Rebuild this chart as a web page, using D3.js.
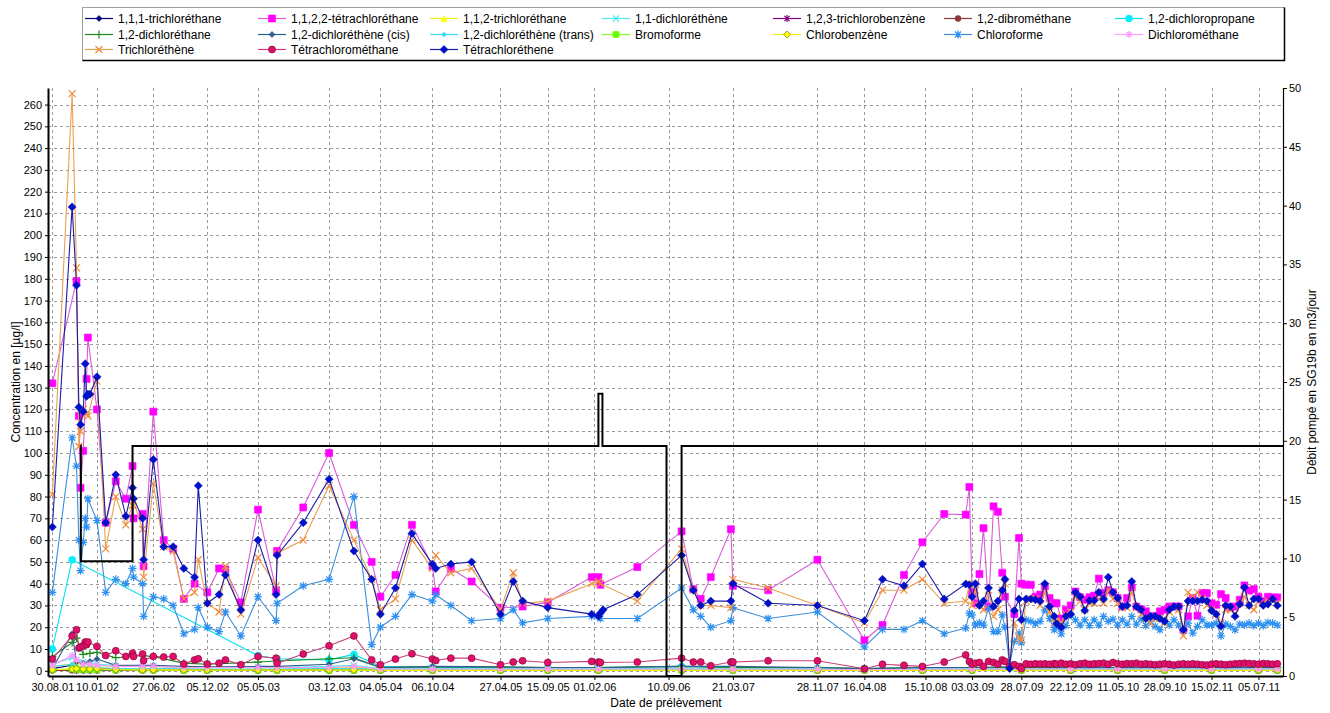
<!DOCTYPE html>
<meta charset="utf-8">
<style>
body { margin: 0; background: #fff; }
text { font-family: "Liberation Sans", Arial, sans-serif; }
</style>
<body>
<script src="https://d3js.org/d3.v7.min.js"></script>
<script>

// sampling dates of the main series
var dates = [
 '30.08.01','28.10.01','10.11.01','17.11.01','22.11.01','30.11.01','06.12.01','10.12.01','14.12.01','20.12.01',
 '10.01.02','05.02.02','07.03.02','06.04.02','26.04.02','29.04.02','26.05.02','29.05.02','27.06.02','28.07.02',
 '25.08.02','26.09.02','28.10.02','08.11.02','05.12.02','09.01.03','28.01.03','15.03.03','05.05.03','28.06.03',
 '01.07.03','17.09.03','03.12.03','15.02.04','08.04.04','04.05.04','18.06.04','06.08.04','06.10.04','16.10.04',
 '30.11.04','31.01.05','27.04.05','04.06.05','02.07.05','15.09.05','24.01.06','13.02.06','19.02.06','27.02.06',
 '09.06.06','19.10.06','23.11.06','15.12.06','14.01.07','15.03.07','21.03.07','04.07.07','28.11.07','16.04.08',
 '09.06.08','12.08.08','06.10.08','10.12.08',
 '12.02.09','23.02.09','03.03.09','13.03.09','25.03.09','06.04.09','21.04.09','06.05.09','19.05.09','01.06.09',
 '09.06.09','23.06.09','07.07.09','21.07.09','28.07.09','11.08.09','25.08.09','08.09.09','22.09.09','06.10.09',
 '20.10.09','03.11.09','10.11.09','24.11.09','08.12.09','22.12.09',
 '05.01.10','19.01.10','02.02.10','16.02.10','02.03.10','16.03.10','30.03.10','13.04.10','27.04.10','11.05.10',
 '25.05.10','08.06.10','22.06.10','06.07.10','20.07.10','03.08.10','17.08.10','31.08.10','14.09.10','28.09.10',
 '12.10.10','26.10.10','09.11.10','23.11.10','07.12.10','21.12.10','04.01.11','18.01.11','01.02.11','15.02.11',
 '01.03.11','15.03.11','29.03.11','12.04.11','26.04.11','10.05.11','24.05.11','07.06.11','21.06.11','05.07.11',
 '19.07.11','02.08.11','16.08.11','30.08.11'
];

var tetrachloroethene = [
 66,213,177,121,113,119,141,126,127,127, 135,68,90,71,84,79,70,51,97,57, 57,47,43,85,31,35,44,28,60,35,
 53,68,88,55,42,26,38,63,49,47, 49,50,26,41,32,29,26,25,26.5,28, 35,53,37,30,32,32,40,31,30,23, 42,39,49,33,
 39.8,39.5,34,40,30,32,38,29.5,32,37, 42,1,27.7,33,23.4,33,33,32.6,32,40, 29.5,25,21.6,20,25,26,
 36,34,27.7,32.3,32.3,36,33,43,36,33.4, 29.5,30,41,29.5,28,24,25,25,24,22.7, 28,29.5,29.5,18.8,32,32,32,32.6,32,27.7,
 26,20.4,30,29.5,25,30.6,38.3,30,33,33, 30,30.6,33,30
];
var tetrachloroethane = [
 132,null,179,117,84,101,null,134,153,null, 120,68,87,79,94,70,72,48,119,60, 56,33,40,null,36,47,46.5,31.4,74,37,
 55,75,100,67,50,34,44,67,48,36.4, 47,41,29,null,29.5,31.4,43,43,39.5,null, 47.6,64,37.5,33,43,65,39,37,51,14, 21,44,59,72,
 71.7,84.4,36,31,44.4,65.5,29.5,75.5,73,45, 34,null,26,61,40,39.5,39.5,34,35,38.7, 33.4,31,31,24,28,30,
 36.4,33.8,32.6,33.8,34.5,42.3,35.7,37,36,33.4, 29.5,33.4,38.3,29.5,28.3,27.3,25,25,27.3,28, 29.5,29.5,29.5,18.8,25,33.4,25.3,35.7,35.7,31,
 30.3,35.2,33.4,29,29.5,32.6,39.2,36.8,37.5,34, 32,34,33.7,33.7
];
var trichloroethene = [
 81,265,185,103,110,120,null,118,117,null, 133,56,80,67,76,78,65,43,86,57, 55,33,36,51,31,27,48,26,52,39,
 54,60,85,60,42,28,33,60,47,53, 45,47,28,45,31,32,40,41,40,null, 32,56,37,30,30,29,42,38,30,22, 37,37,42,31,
 32,40,30,37,30,28,37,25,28,37, 40,2,22,15,14,32,33,33,30,36, 27,22,25,22,26,27,
 34,32,28,31,31,33,31,37,33,31, 29,29,36,29,26,24,22,24,24,22, 27,29,28,16,36,34,36,33,30,28,
 26,22,28,28,26,31,34,30,28,32, 31,32,32,31
];
var chloroforme = [
 36,107,94,60,46,59,70,66,79,null, 69,36,42,40,47,43,40,25,34,33, 30,17,19,29,20,18,27,16,34,23,
 31,39,42,80,12,20,25,35,32,35, 30,23,24,28,22,24,25,25,24,null, 24,38,28,25,20,23,29,24,27,11, 19,19,23,17,
 19.6,26.5,25.7,21,22,21,28.8,18,18,25.7, 20,2.8,13.5,17.3,13,23.4,22.7,21.6,22.7,28, 24,18.8,20.4,17,20.8,25.7,
 23.4,21,23.4,20.8,23.4,21,25,22.7,23.7,21, 23.4,21.4,25,21.4,23.7,20.7,22.7,20.4,18.8,22.7, 21,23.4,21,18.8,21.9,17.3,20.4,23.4,21,21,
 21.9,16,21.4,20.4,18.8,21.4,21,21.9,20.7,21.9, 20.7,22.2,21.9,21
];
var tetrachloromethane = [
 5.4,16,18.8,10.4,10.9,11.5,13.2,12,13.2,null, 11.2,7,9.2,6.6,8.1,6.6,7.7,4.7,6.6,6.3, 6.6,3.1,5,5.5,3.1,3.5,5,2.8,6.6,5.8,
 3.5,7.7,11.5,16,5,2.8,5.4,7.8,5.4,4.7, 5.8,5.8,2.8,4,4.6,3.8,4.3,4,3.8,null, 4,5.8,4,4,2.3,4,4,4.6,4.6,0.9, 3,2.5,2,4,
 7.3,4.3,3,3.5,3.8,2,4.3,3.8,3,5, 4.3,2,2.8,2,1,3.2,3,3.2,3.1,3.2, 3,3.3,3,3.5,3,3.2,
 2.8,3.2,3.5,3.0,3.2,3.3,3.5,3,3.8,3.2, 3,3.3,3.2,3.5,3,3.2,3,2.8,3,3.2, 3,2.6,3,3.2,3,3.2,3,2.8,2.6,3,
 3.2,3,2.8,3,3.2,3.3,3.5,3.3,3.2,3, 3.3,3.2,3.0,3.2
];

// sampling dates of the low-concentration series
var lowDates = [
 '30.08.01','28.10.01','10.11.01','30.11.01','20.12.01','10.01.02','07.03.02','26.05.02','27.06.02','26.09.02',
 '05.12.02','05.05.03','01.07.03','03.12.03','15.02.04','04.05.04','06.10.04','27.04.05','15.09.05','13.02.06',
 '19.10.06','21.03.07','28.11.07','16.04.08','06.10.08','03.03.09','28.07.09','22.12.09','11.05.10','28.09.10',
 '15.02.11','05.07.11','30.08.11'
];
var trichloroethane111 = [1,2.5,1.5,1,1,1,1,0.8,0.8,0.7, 0.6,0.6,0.6,0.8,1,0.5,0.5,0.5,0.5,0.5, 0.6,0.5,0.5,0.4,0.5,0.5,0.5,0.5,0.5,0.5, 0.5,0.5,0.5];
var trichloroethane112 = [2,3,3.5,3,3,2.5,2,2,2,1.5, 1.5,1.5,1.5,1.2,1.5,0.8,0.8,0.7,0.6,0.6, 0.6,0.6,0.5,0.4,0.5,0.5,0.5,0.5,0.5,0.5, 0.5,0.5,0.5];
var dichloroethene11 = [3,6,5,4,3.5,3,2.5,2,2,1.5, 1.5,1.5,1.5,2,2.5,1,1,1,1,1, 1.2,1,1,0.8,1,1,1,1,1,1, 1,1,1];
var trichlorobenzene = [0.3,0.2,0.2,0.2,0.2,0.2,0.2,0.2,0.2,0.2, 0.2,0.2,0.2,0.2,0.2,0.1,0.1,0.1,0.1,0.1, 0.1,0.1,0.1,0.1,0.1,0.1,0.1,0.1,0.1,0.1, 0.1,0.1,0.1];
var dibromethane = [0.2,0.3,0.2,0.2,0.2,0.2,0.2,0.2,0.2,0.2, 0.2,0.2,0.2,0.2,0.2,0.2,0.2,0.2,0.2,0.2, 0.2,0.2,0.2,0.2,0.2,0.2,0.2,0.2,0.2,0.2, 0.2,0.2,0.2];
var dichloropropane = [10,51,null,null,null,null,null,null,null,null, null,7,5.5,5,7.5,2,1.5,1.5,1.5,1.5, 2,1.5,1.2,1,1.2,1.5,1.5,1.2,1.2,1.2, 1.2,1.2,1.2];
var dichloroethane12 = [6.5,13,15,7.5,8,8.5,6,7,6.5,3.5, 3,4,4.5,5.5,6,1.5,1.8,1.8,1.5,1.5, 2,1.5,1.5,1,1.5,1.5,1.5,1.5,1.5,1.5, 1.5,1.5,1.5];
var dceCis = [1,17,4,3.5,4.3,5.4,2.5,2.5,2.5,2, 1.8,2,2,3,5.5,1.5,2,1.8,1.5,1.5, 2,2,1.5,1,1.5,1.5,2,1.5,1.5,1.5, 1.5,1.5,1.5];
var dceTrans = [2,3,2,1.5,1.5,1.5,1,1,1,0.8, 0.8,0.8,0.8,1,1,0.6,0.6,0.6,0.6,0.6, 0.7,0.6,0.6,0.5,0.6,0.6,0.6,0.6,0.6,0.6, 0.6,0.6,0.6];
var bromoforme = [0.5,0.8,0.6,0.5,0.5,0.5,0.4,0.4,0.4,0.3, 0.3,0.3,0.3,0.3,0.3,0.3,0.3,0.3,0.3,0.3, 0.3,0.3,0.3,0.3,0.3,0.3,0.3,0.3,0.3,0.3, 0.3,0.3,0.3];
var chlorobenzene = [0.5,0.8,1,0.8,0.8,1,0.6,0.4,0.4,0.3, 0.3,0.3,0.3,0.3,0.3,0.2,0.2,0.2,0.2,0.2, 0.2,0.2,0.2,0.2,0.2,0.2,0.2,0.2,0.2,0.2, 0.2,0.2,0.2];
var dichloromethane = [2.5,7,5,3,3,2.5,2,2,2,1.5, 1.5,1.5,1.5,1.5,2,0.8,0.8,0.8,0.8,0.8, 0.8,0.8,0.8,0.5,0.8,0.8,0.8,0.8,0.8,0.8, 0.8,0.8,0.8];

// pumped flow (right axis), step line
var flowDates = ['22.11.01','23.11.01','26.04.02','13.02.06','25.02.06','04.09.06','19.10.06','16.09.11'];
var flowValues = [19.6, 9.75, 19.55, 24, 19.55, 0, 19.55, 19.55];

var tickLabels = ['30.08.01','10.01.02','27.06.02','05.12.02','05.05.03','03.12.03','04.05.04','06.10.04',
 '27.04.05','15.09.05','01.02.06','10.09.06','21.03.07','28.11.07','16.04.08','15.10.08','03.03.09',
 '28.07.09','22.12.09','11.05.10','28.09.10','15.02.11','05.07.11'];

var series = [
 {name: "1,1,1-trichloréthane", color: "#000080", fill: "#000080", mark: "diamond", r: 3, d: lowDates, v: trichloroethane111},
 {name: "1,1,2,2-tétrachloréthane", color: "#d95cd9", fill: "#ff00ff", mark: "square", r: 3.5, d: dates, v: tetrachloroethane},
 {name: "1,1,2-trichloréthane", color: "#f0f000", fill: "#ffff00", mark: "triangle", r: 3, d: lowDates, v: trichloroethane112},
 {name: "1,1-dichloréthène", color: "#50e8f0", fill: "#50e8f0", mark: "x", r: 3, d: lowDates, v: dichloroethene11},
 {name: "1,2,3-trichlorobenzène", color: "#800080", fill: "#800080", mark: "star", r: 3.5, d: lowDates, v: trichlorobenzene},
 {name: "1,2-dibrométhane", color: "#8b3a3a", fill: "#8b3a3a", mark: "circle", r: 3, d: lowDates, v: dibromethane},
 {name: "1,2-dichloropropane", color: "#00e0f0", fill: "#00f0ff", mark: "circle", r: 3.5, d: lowDates, v: dichloropropane},
 {name: "1,2-dichloréthane", color: "#1a8a1a", fill: "#1a8a1a", mark: "plus", r: 4, d: lowDates, v: dichloroethane12},
 {name: "1,2-dichloréthène (cis)", color: "#2f5f8f", fill: "#2f5f8f", mark: "diamond", r: 3, d: lowDates, v: dceCis},
 {name: "1,2-dichloréthène (trans)", color: "#40d8f8", fill: "#40d8f8", mark: "circle", r: 2, d: lowDates, v: dceTrans},
 {name: "Bromoforme", color: "#80ff20", fill: "#66ff00", mark: "square", r: 3, d: lowDates, v: bromoforme},
 {name: "Chlorobenzène", color: "#f0f000", fill: "#ffff00", mark: "odiamond", r: 3.5, d: lowDates, v: chlorobenzene},
 {name: "Chloroforme", color: "#3a8ed8", fill: "#2e90f0", mark: "star", r: 4, d: dates, v: chloroforme},
 {name: "Dichlorométhane", color: "#ff99ff", fill: "#ff99ff", mark: "star", r: 3.5, d: lowDates, v: dichloromethane},
 {name: "Trichloréthène", color: "#e9a050", fill: "#f08a3c", mark: "x", r: 3.5, d: dates, v: trichloroethene},
 {name: "Tétrachlorométhane", color: "#c8407a", fill: "#e0106a", mark: "ocircle", r: 3.5, d: dates, v: tetrachloromethane},
 {name: "Tétrachloréthene", color: "#1c1ca4", fill: "#0010c8", mark: "diamond", r: 4, d: dates, v: tetrachloroethene}
];

var parse = d3.timeParse("%d.%m.%y");
var plotL = 48, plotR = 1283, plotT = 88, plotB = 676;

var x = d3.scaleTime().domain([new Date(2001, 7, 17), new Date(2011, 8, 16)]).range([plotL, plotR]);
var yL = d3.scaleLinear().domain([-2.4, 267.6]).range([plotB, plotT]);
var yR = d3.scaleLinear().domain([0, 50]).range([plotB, plotT]);

var svg = d3.select("body").append("svg")
    .attr("width", 1330)
    .attr("height", 713);

// marker shapes
function markPath(type, r) {
  if (type == "diamond" || type == "odiamond")
    return "M0," + (-r) + "L" + r + ",0L0," + r + "L" + (-r) + ",0Z";
  if (type == "square")
    return "M" + (-r) + "," + (-r) + "h" + (2 * r) + "v" + (2 * r) + "h" + (-2 * r) + "Z";
  if (type == "triangle")
    return "M0," + (-r) + "L" + r + "," + r + "L" + (-r) + "," + r + "Z";
  if (type == "circle" || type == "ocircle")
    return d3.symbol(d3.symbolCircle, Math.PI * r * r)();
  if (type == "x")
    return "M" + (-r) + "," + (-r) + "L" + r + "," + r + "M" + (-r) + "," + r + "L" + r + "," + (-r);
  if (type == "plus")
    return "M" + (-r) + ",0H" + r + "M0," + (-r) + "V" + r;
  if (type == "star") {
    var q = r * 0.75;
    return "M" + (-r) + ",0H" + r + "M0," + (-r) + "V" + r +
      "M" + (-q) + "," + (-q) + "L" + q + "," + q + "M" + (-q) + "," + q + "L" + q + "," + (-q);
  }
}
function styleMark(sel, s) {
  var stroked = (s.mark == "x" || s.mark == "plus" || s.mark == "star");
  sel.attr("d", markPath(s.mark, s.r))
    .attr("fill", stroked ? "none" : s.fill)
    .attr("stroke", stroked ? s.fill : (s.mark == "ocircle" ? "#7a0030" : (s.mark == "odiamond" ? "#666600" : s.fill)))
    .attr("stroke-width", stroked ? 1.2 : 0.6);
}

// grid
var grid = svg.append("g").attr("stroke", "#9a9a9a").attr("stroke-dasharray", "3,3");
grid.selectAll(".h").data(d3.range(0, 261, 10)).join("line")
    .attr("x1", plotL).attr("x2", plotR)
    .attr("y1", function(d) { return Math.round(yL(d)) + 0.5; })
    .attr("y2", function(d) { return Math.round(yL(d)) + 0.5; });
grid.selectAll(".v").data(tickLabels).join("line")
    .attr("y1", plotT).attr("y2", plotB)
    .attr("x1", function(d) { return Math.round(x(parse(d))) + 0.5; })
    .attr("x2", function(d) { return Math.round(x(parse(d))) + 0.5; });

// series
var line = d3.line()
    .x(function(p) { return x(p.date); })
    .y(function(p) { return yL(p.v); });

series.forEach(function(s) {
  var pts = s.d.map(function(t, i) { return {date: parse(t), v: s.v[i]}; })
      .filter(function(p) { return p.v != null; });
  var g = svg.append("g");
  g.append("path")
      .attr("d", line(pts))
      .attr("fill", "none")
      .attr("stroke", s.color)
      .attr("stroke-width", 1.1);
  g.selectAll("path.m").data(pts).join("path")
      .attr("class", "m")
      .attr("transform", function(p) { return "translate(" + x(p.date) + "," + yL(p.v) + ")"; })
      .call(styleMark, s);
});

// pumped flow
var flow = flowDates.map(function(t, i) { return {date: parse(t), v: flowValues[i]}; });
svg.append("path")
    .attr("d", d3.line().curve(d3.curveStepAfter)
        .x(function(p) { return x(p.date); })
        .y(function(p) { return yR(p.v); })(flow))
    .attr("fill", "none")
    .attr("stroke", "#000")
    .attr("stroke-width", 2);

// axes
var gx = svg.append("g")
    .attr("transform", "translate(0," + plotB + ")")
    .call(d3.axisBottom(x).tickValues(tickLabels.map(parse))
        .tickFormat(d3.timeFormat("%d.%m.%y")).tickSize(4).tickSizeOuter(0).tickPadding(3));
var gy = svg.append("g")
    .attr("transform", "translate(" + plotL + ",0)")
    .call(d3.axisLeft(yL).tickValues(d3.range(0, 261, 10)).tickSize(3).tickSizeOuter(0).tickPadding(3));
var gr = svg.append("g")
    .attr("transform", "translate(" + plotR + ",0)")
    .call(d3.axisRight(yR).tickValues(d3.range(0, 51, 5)).tickSize(4).tickSizeOuter(0).tickPadding(2));

[gx, gy, gr].forEach(function(g) {
  g.selectAll("text").attr("font-size", 11).attr("font-family", "Liberation Sans, Arial, sans-serif").attr("fill", "#000");
});
gx.select(".domain").attr("stroke-width", 2);
gy.select(".domain").attr("stroke-width", 2);
gr.select(".domain").attr("stroke-width", 1.2);

// axis titles
svg.append("text")
    .attr("transform", "translate(20,382) rotate(-90)")
    .attr("text-anchor", "middle").attr("font-size", 12)
    .text("Concentration en [µg/l]");
svg.append("text")
    .attr("transform", "translate(1316,382) rotate(-90)")
    .attr("text-anchor", "middle").attr("font-size", 12)
    .text("Débit pompé en SG19b en m3/jour");
svg.append("text")
    .attr("x", 666).attr("y", 707)
    .attr("text-anchor", "middle").attr("font-size", 12)
    .text("Date de prélèvement");

// legend
var legend = svg.append("g");
legend.append("rect")
    .attr("x", 82.5).attr("y", 7.5).attr("width", 1202).attr("height", 53)
    .attr("fill", "#fff").attr("stroke", "#a0a0a0");
legend.append("path")
    .attr("d", "M82.5,60.5H1284.5V7.5")
    .attr("fill", "none").attr("stroke", "#000").attr("stroke-width", 1.5);

var colX = [118, 291, 463, 635, 806, 977, 1148];
var rowY = [18, 34, 49];
series.forEach(function(s, i) {
  var tx = colX[i % 7], ty = rowY[Math.floor(i / 7)];
  var g = legend.append("g");
  g.append("line")
      .attr("x1", tx - 33).attr("x2", tx - 5)
      .attr("y1", ty + 0.5).attr("y2", ty + 0.5)
      .attr("stroke", s.color).attr("stroke-width", 1.2);
  g.append("path")
      .attr("transform", "translate(" + (tx - 19) + "," + (ty + 0.5) + ")")
      .call(styleMark, s);
  g.append("text")
      .attr("x", tx).attr("y", ty + 4.5)
      .attr("font-size", 12)
      .text(s.name);
});

</script>
</body>
